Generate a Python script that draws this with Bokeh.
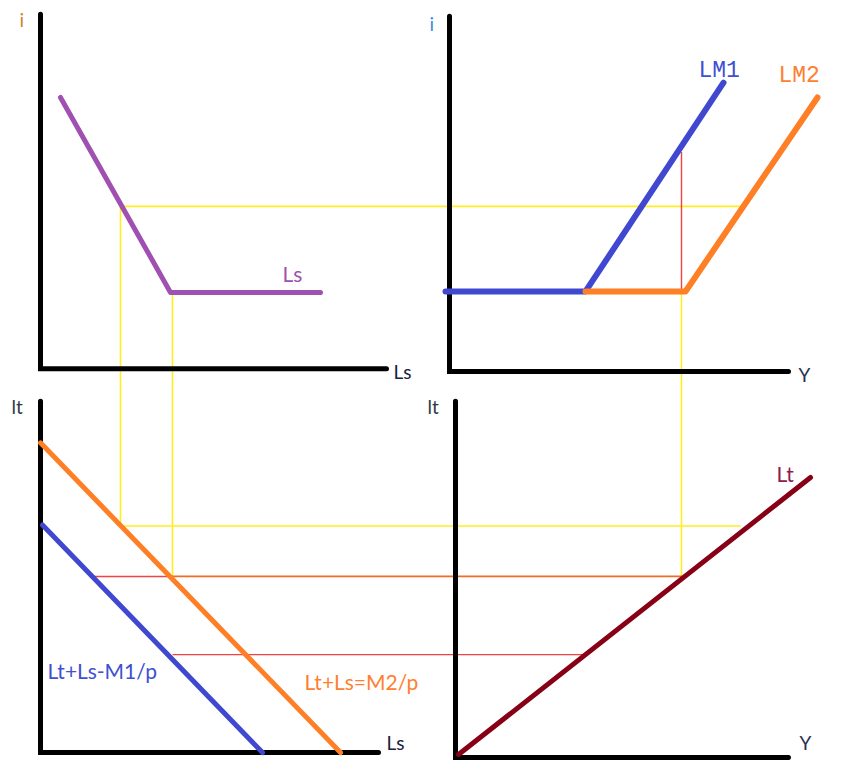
from bokeh.plotting import figure
from bokeh.models import Range1d
from bokeh.embed import file_html
from bokeh.resources import INLINE
from bokeh.core.properties import value

# ---- data (diagram coordinates, screen-pixel frame of the reference) ----
axes_x = [[40, 40, 386], [449, 449, 788], [40, 40, 378], [455, 455, 788]]
axes_y = [[14, 372, 372], [16, 375, 375], [405, 760, 760], [405, 765, 765]]

# Ls curve (top-left)
ls_x = [60, 170, 320]
ls_y = [98, 295, 295]

# LM1 / LM2 (top-right)
lm1_x = [445, 585, 723]
lm1_y = [294, 294, 83]
lm2_x = [585, 685, 817]
lm2_y = [294, 294, 98]

# Lt+Ls lines (bottom-left)
m1_x = [42, 262]
m1_y = [530, 760]
m2_x = [40, 340]
m2_y = [447, 760]

# LL (bottom-right)
ll_x = [458, 810]
ll_y = [762, 482]

# Yellow guide lines
yel_xs = [[120, 740], [120, 120], [120, 740], [172, 172], [681, 681]]
yel_ys = [[208, 208], [208, 531], [531, 531], [295, 582], [294, 582]]

# Red guide lines
red_xs = [[681, 681], [93, 172], [172, 585]]
red_ys = [[153, 294], [582, 582], [661, 661]]

# Orange-red overlap line (red + yellow)
mix_xs = [[172, 682]]
mix_ys = [[582, 582]]

# Axis labels
lbl_text = ["i", "i", "Ls", "Y", "lt", "lt", "Ls", "Y"]
lbl_x = [19, 429, 393, 798, 11, 427, 386, 799]
lbl_y = [8, 12, 363, 366, 399, 399, 738, 738]
lbl_col = ["#c8862a", "#3d8ad8", "#1a2040", "#2a3050", "#303848", "#303848", "#1a2040", "#2a3050"]

# Curve labels
curve_text = ["Ls", "Lt", "Lt+Ls-M1/p", "Lt+Ls=M2/p"]
curve_x = [282, 776, 47, 304]
curve_y = [263, 465, 664, 676]
curve_col = ["#a050b0", "#8a2050", "#4050d0", "#ff8030"]

lm_text = ["LM1", "LM2"]
lm_x = [698, 778]
lm_y = [58, 63]
lm_col = ["#4050d0", "#ff8030"]

W, H = 825, 760
p = figure(width=W, height=H, output_backend="svg", toolbar_location=None,
           x_range=Range1d(0, W), y_range=Range1d(768, 0),
           min_border=0, background_fill_color="white")
p.axis.visible = False
p.grid.visible = False
p.outline_line_color = None

# guide lines first (underneath)
p.multi_line(yel_xs, yel_ys, line_color="#ffee22", line_width=1.6)
p.multi_line(red_xs, red_ys, line_color="#ee3030", line_width=1.4, line_alpha=0.9)
p.multi_line(mix_xs, mix_ys, line_color="#f26a2a", line_width=1.8)

# axes
p.multi_line(axes_x, axes_y, line_color="black", line_width=5, line_cap="round", line_join="miter")

# curves
p.line(ls_x, ls_y, line_color="#a050b0", line_width=5, line_cap="round", line_join="round")
p.line(lm1_x, lm1_y, line_color="#4048d0", line_width=6, line_cap="round", line_join="round")
p.line(lm2_x, lm2_y, line_color="#ff7f27", line_width=6, line_cap="round", line_join="round")
p.line(m2_x, m2_y, line_color="#ff7f27", line_width=5, line_cap="round")
p.line(m1_x, m1_y, line_color="#4048d0", line_width=5, line_cap="round")
p.line(ll_x, ll_y, line_color="#880015", line_width=5, line_cap="round")

# labels
p.text(lbl_x, lbl_y, text=lbl_text, text_color=lbl_col, text_font=value("Lato"),
       text_font_size="19px", text_baseline="top", text_align="left")
p.text(curve_x, curve_y, text=curve_text, text_color=curve_col, text_font=value("Lato"),
       text_font_size="21px", text_baseline="top", text_align="left")
p.text(lm_x, lm_y, text=lm_text, text_color=lm_col, text_font=value("Liberation Mono"),
       text_font_size="23px", text_baseline="top", text_align="left")

open("out.html", "w").write(file_html(p, INLINE))
